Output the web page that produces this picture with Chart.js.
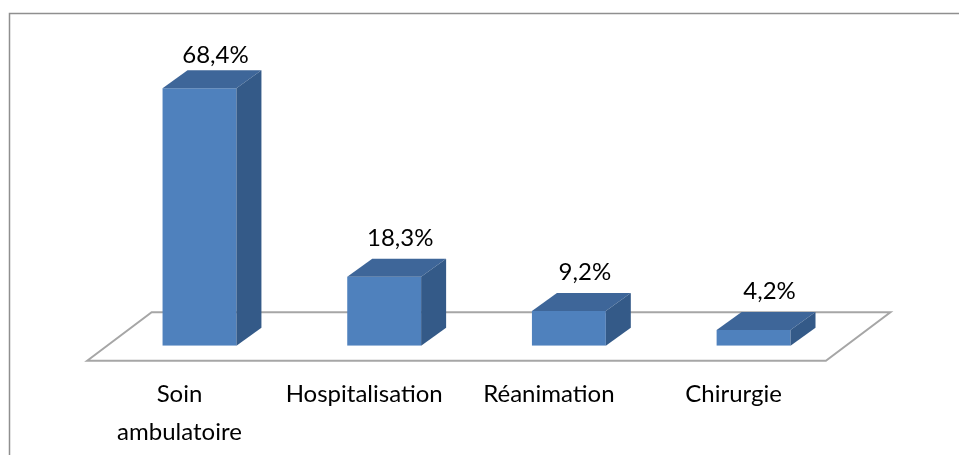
<!DOCTYPE html>
<html>
<head>
<meta charset="utf-8">
<script src="https://cdn.jsdelivr.net/npm/chart.js@4/dist/chart.umd.min.js"></script>
<style>
  html, body { margin: 0; padding: 0; background: #fff; }
  #wrap { width: 959px; height: 455px; position: relative; }
</style>
</head>
<body>
<div id="wrap"><canvas id="chartSoins" width="959" height="455"></canvas></div>
<script>
// Répartition par type de prise en charge (%)
var categories = [['Soin', 'ambulatoire'], 'Hospitalisation', 'Réanimation', 'Chirurgie'];
var valeurs = [68.4, 18.3, 9.2, 4.2];

var couleurFace = '#4f81bd';
var couleurDessus = '#3e6699';
var couleurCote = '#345a88';

// profondeur des barres (effet 3D)
var DX = 25, DY = 18;

function formatPct(v) {
  return v.toFixed(1).replace('.', ',') + '%';
}

// cadre + sol en perspective
var plateau = {
  id: 'plateau',
  beforeDraw: function(chart) {
    var ctx = chart.ctx;
    ctx.save();
    ctx.strokeStyle = '#8f8f8f';
    ctx.lineWidth = 1.5;
    ctx.strokeRect(9.5, 13.5, 1200, 800);
    ctx.restore();
  },
  beforeDatasetsDraw: function(chart) {
    var ctx = chart.ctx;
    var x = chart.scales.x, y = chart.scales.y;
    var y0 = y.getPixelForValue(0);
    ctx.save();
    ctx.strokeStyle = '#a6a6a6';
    ctx.lineWidth = 2;
    ctx.beginPath();
    ctx.moveTo(x.left - 20, y0 + 15);
    ctx.lineTo(x.left + 44.5, y0 - 33.5);
    ctx.lineTo(x.right + 44.5, y0 - 33.5);
    ctx.lineTo(x.right - 20, y0 + 15);
    ctx.closePath();
    ctx.stroke();
    ctx.restore();
  },
  afterDatasetsDraw: function(chart) {
    var ctx = chart.ctx;
    var meta = chart.getDatasetMeta(0);
    ctx.save();
    meta.data.forEach(function(bar, i) {
      var l = bar.x - bar.width / 2, r = bar.x + bar.width / 2;
      var t = bar.y, b = bar.base;
      // dessus
      ctx.fillStyle = couleurDessus;
      ctx.beginPath();
      ctx.moveTo(l, t);
      ctx.lineTo(l + DX, t - DY);
      ctx.lineTo(r + DX, t - DY);
      ctx.lineTo(r, t);
      ctx.closePath();
      ctx.fill();
      // côté droit
      ctx.fillStyle = couleurCote;
      ctx.beginPath();
      ctx.moveTo(r, t);
      ctx.lineTo(r + DX, t - DY);
      ctx.lineTo(r + DX, b - DY);
      ctx.lineTo(r, b);
      ctx.closePath();
      ctx.fill();
      // étiquette de valeur
      var yTxt = Math.max(t - 31, chart.chartArea.top + 18.6);
      ctx.fillStyle = '#000';
      ctx.font = '24px Lato';
      ctx.textAlign = 'center';
      ctx.textBaseline = 'alphabetic';
      ctx.fillText(formatPct(valeurs[i]), bar.x + 16, yTxt);
    });
    ctx.restore();
  }
};

var ctx = document.getElementById('chartSoins').getContext('2d');
var chart = new Chart(ctx, {
  type: 'bar',
  data: {
    labels: categories,
    datasets: [{
      data: valeurs,
      backgroundColor: couleurFace,
      borderWidth: 0,
      categoryPercentage: 1,
      barPercentage: 0.4
    }]
  },
  options: {
    responsive: false,
    animation: false,
    layout: { padding: { top: 44.7, left: 107.15, right: 113.1, bottom: 0 } },
    plugins: {
      legend: { display: false },
      tooltip: { enabled: false }
    },
    scales: {
      y: { display: false, min: 0, max: 80 },
      x: {
        grid: { display: false, drawTicks: false },
        border: { display: false },
        ticks: {
          color: '#000',
          font: { family: 'Lato', size: 24, lineHeight: 38 / 24 },
          padding: 30,
          labelOffset: -20,
          maxRotation: 0,
          autoSkip: false
        },
        afterFit: function(scale) { scale.height = 109.3; }
      }
    }
  },
  plugins: [plateau]
});
</script>
</body>
</html>
